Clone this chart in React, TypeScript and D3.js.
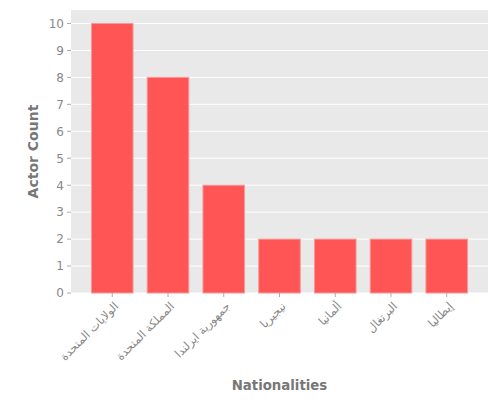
import React from "react";
import * as d3 from "d3";

const categories = ["الولايات المتحدة", "المملكة المتحدة", "جمهورية ايرلندا", "نيجيريا", "ألمانيا", "البرتغال", "إيطاليا"];
const counts = [10, 8, 4, 2, 2, 2, 2];
const yTicks = [0, 1, 2, 3, 4, 5, 6, 7, 8, 9, 10];

const W = 500, H = 400;
const left = 71, right = 488, top = 10, bottom = 293;

export default function App() {
  const n = categories.length;
  const bw = 0.8;
  const pad = bw / 2 + 0.05 * (n - 1 + bw);
  const x = d3.scaleLinear().domain([-pad, n - 1 + pad]).range([left, right]);
  const y = d3.scaleLinear().domain([0, 10.5]).range([bottom, top]);
  const font = "DejaVu Sans";
  return (
    <svg width={W} height={H} style={{ position: "absolute", left: 0, top: 0 }} fontFamily={font}>
      <rect x={left} y={top} width={right - left} height={bottom - top} fill="#E9E9E9" />
      {yTicks.map((t) => (
        <line key={"g" + t} x1={left} x2={right} y1={y(t)} y2={y(t)} stroke="#fff" strokeWidth={1} />
      ))}
      {counts.map((v, i) => {
        const x0 = x(i - bw / 2);
        const x1 = x(i + bw / 2);
        return (
          <rect key={"b" + i} x={x0 + 1.5} y={y(v)} width={x1 - x0 - 3} height={y(0) - y(v)}
            fill="#FF5555" stroke="#F59A9A" strokeWidth={1} />
        );
      })}
      {yTicks.map((t) => (
        <g key={"yt" + t}>
          <line x1={left - 4} x2={left} y1={y(t)} y2={y(t)} stroke="#aaa" strokeWidth={1} />
          <text x={left - 7} y={y(t)} dy="0.36em" textAnchor="end" fontSize={12} fill="#888">{t}</text>
        </g>
      ))}
      {categories.map((c, i) => (
        <g key={"xt" + i}>
          <line x1={x(i)} x2={x(i)} y1={bottom} y2={bottom + 4} stroke="#aaa" strokeWidth={1} />
          <text transform={`translate(${x(i) + 7},${bottom + 14}) rotate(-45)`} textAnchor="end" fontSize={11.5} fill="#888">{c}</text>
        </g>
      ))}
      <text transform={`translate(38,${(top + bottom) / 2}) rotate(-90)`} textAnchor="middle" fontSize={14} fontWeight="bold" fill="#777">Actor Count</text>
      <text x={(left + right) / 2} y={390} textAnchor="middle" fontSize={13.3} fontWeight="bold" fill="#777">Nationalities</text>
    </svg>
  );
}
